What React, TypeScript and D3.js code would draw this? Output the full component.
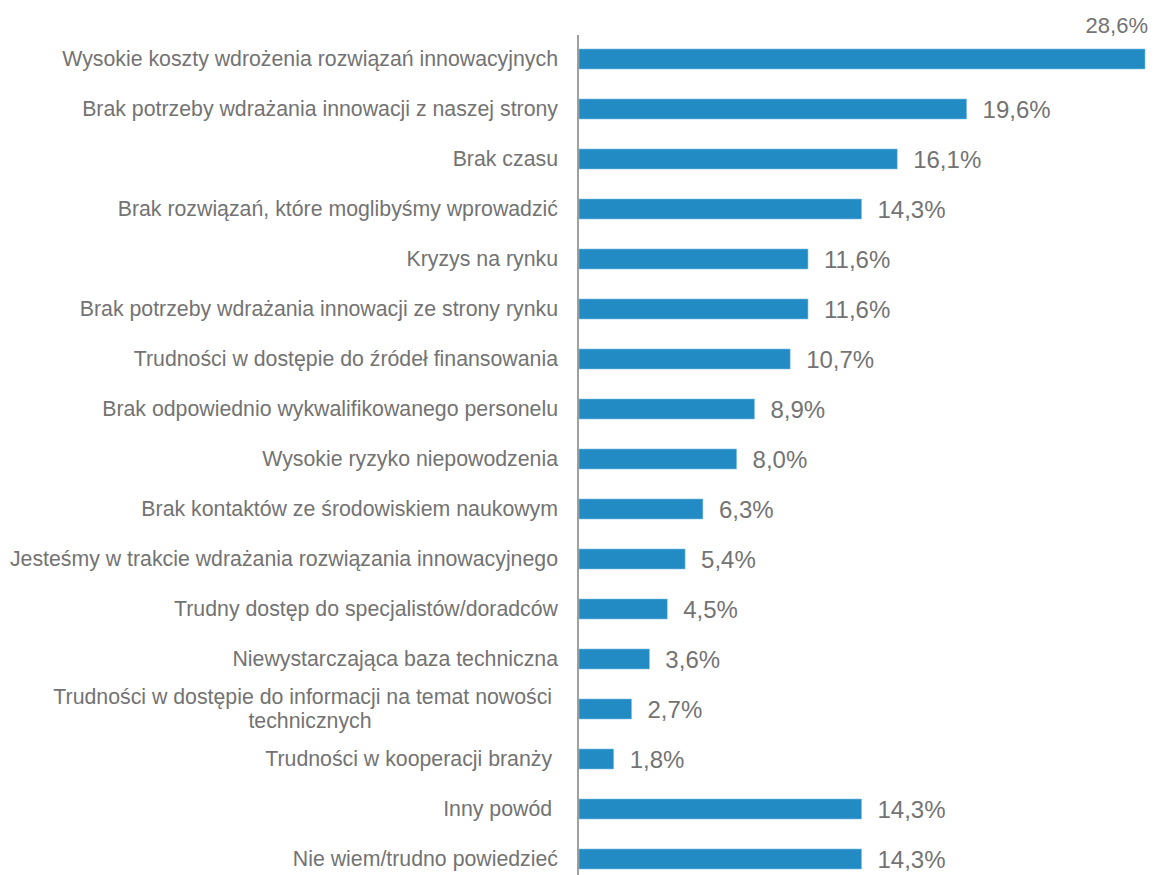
import React from "react";
import * as d3 from "d3";

const categories: string[][] = [
  ["Wysokie koszty wdrożenia rozwiązań innowacyjnych"],
  ["Brak potrzeby wdrażania innowacji z naszej strony"],
  ["Brak czasu"],
  ["Brak rozwiązań, które moglibyśmy wprowadzić"],
  ["Kryzys na rynku"],
  ["Brak potrzeby wdrażania innowacji ze strony rynku"],
  ["Trudności w dostępie do źródeł finansowania"],
  ["Brak odpowiednio wykwalifikowanego personelu"],
  ["Wysokie ryzyko niepowodzenia"],
  ["Brak kontaktów ze środowiskiem naukowym"],
  ["Jesteśmy w trakcie wdrażania rozwiązania innowacyjnego"],
  ["Trudny dostęp do specjalistów/doradców"],
  ["Niewystarczająca baza techniczna"],
  ["Trudności w dostępie do informacji na temat nowości ", "technicznych"],
  ["Trudności w kooperacji branży "],
  ["Inny powód "],
  ["Nie wiem/trudno powiedzieć"],
];

const values: number[] = [28.6, 19.6, 16.1, 14.3, 11.6, 11.6, 10.7, 8.9, 8.0, 6.3, 5.4, 4.5, 3.6, 2.7, 1.8, 14.3, 14.3];

const valueLabels: string[] = values.map((v) => v.toFixed(1).replace(".", ",") + "%");

const W = 1160;
const H = 875;
const X0 = 578;
const X1 = 1145;
const TEXT = "#737373";
const BAR = "#228BC4";
const FONT = "'Liberation Sans', Arial, sans-serif";
const CAT_FS = 21.3;

export default function App() {
  const x = d3.scaleLinear().domain([0, d3.max(values) as number]).range([X0, X1]);
  const y = d3
    .scaleBand<number>()
    .domain(d3.range(values.length))
    .range([34, 884])
    .paddingInner(0.6)
    .paddingOuter(0.3);
  const bw = y.bandwidth();

  return (
    <svg
      width={W}
      height={H}
      style={{ position: "absolute", left: 0, top: 0, background: "#fff" }}
      fontFamily={FONT}
    >
      {values.map((v, i) => {
        const cy = (y(i) as number) + bw / 2;
        const lines = categories[i];
        const isTop = i === 0;
        return (
          <g key={i}>
            <rect
              x={x(0) + 1}
              y={cy - 10}
              width={x(v) - x(0) - 1}
              height={20}
              fill={BAR}
              stroke="#7FC0E6"
              strokeWidth={0.6}
            />
            {lines.length === 1 ? (
              <text
                x={558}
                y={cy + 7}
                textAnchor="end"
                fontSize={CAT_FS}
                fill={TEXT}
                style={{ whiteSpace: "pre" }}
              >
                {lines[0]}
              </text>
            ) : (
              <g>
                <text x={558} y={cy - 5} textAnchor="end" fontSize={CAT_FS} fill={TEXT} style={{ whiteSpace: "pre" }}>
                  {lines[0]}
                </text>
                <text x={310} y={cy + 19} textAnchor="middle" fontSize={CAT_FS} fill={TEXT}>
                  {lines[1]}
                </text>
              </g>
            )}
            <text
              x={isTop ? x(v) + 3 : x(v) + 16}
              y={isTop ? 33 : cy + 9}
              textAnchor={isTop ? "end" : "start"}
              fontSize={isTop ? 22 : 24}
              fill={TEXT}
            >
              {valueLabels[i]}
            </text>
          </g>
        );
      })}
      <line x1={X0} x2={X0} y1={35} y2={H} stroke="#808080" strokeWidth={1.5} />
    </svg>
  );
}
